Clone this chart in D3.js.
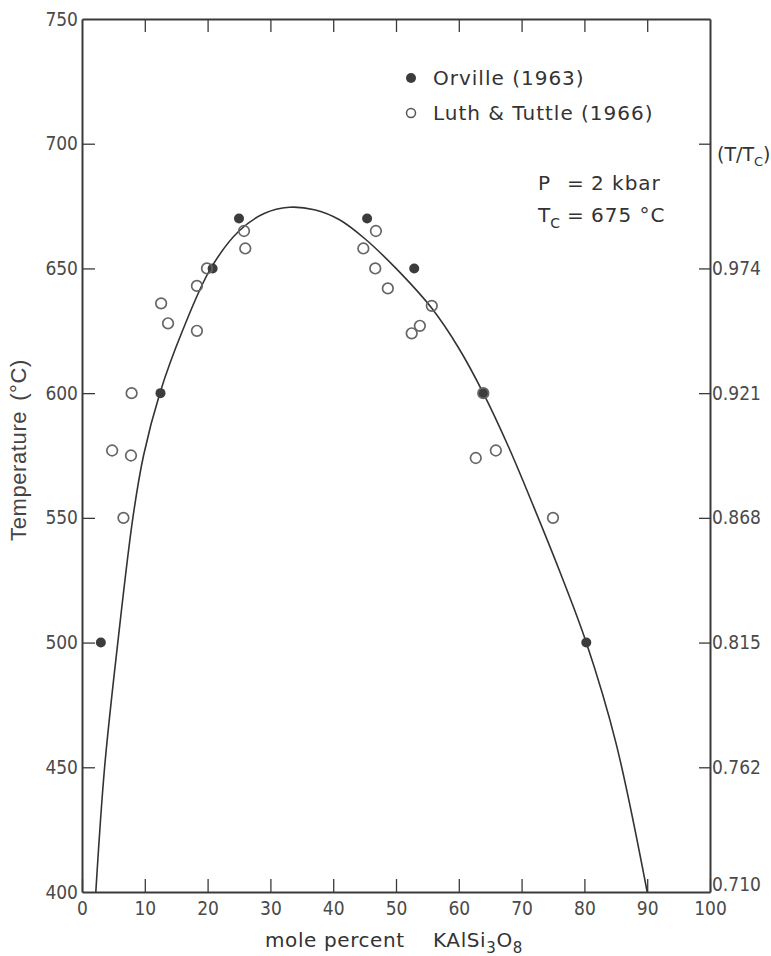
<!DOCTYPE html>
<html lang="en">
<head>
<meta charset="UTF-8">
<title>Alkali feldspar solvus</title>
<script src="https://d3js.org/d3.v7.min.js"></script>
<style>
  body { margin: 0; background: #fff; }
  .tick text { font-family: "Liberation Sans Narrow", "DejaVu Sans Condensed", sans-serif; font-stretch: condensed; font-size: 19px; fill: #4a4a4a; }
  .lbl { font-family: "DejaVu Sans", sans-serif; fill: #333; }
</style>
</head>
<body>
<div id="chart"></div>
<script>
// Orville (1963) - filled circles
const orvilleX = [3, 12.5, 20.8, 25, 45.4, 52.9, 63.9, 80.3];
const orvilleT = [500, 600, 650, 670, 670, 650, 600, 500];

// Luth & Tuttle (1966) - open circles
const luthX = [4.8, 6.6, 7.8, 7.9, 12.6, 13.7, 18.3, 18.3, 19.9, 25.8, 26, 44.8, 46.7, 46.8, 48.7, 52.5, 53.8, 55.7, 62.7, 63.9, 65.9, 75];
const luthT = [577, 550, 575, 600, 636, 628, 625, 643, 650, 665, 658, 658, 650, 665, 642, 624, 627, 635, 574, 600, 577, 550];

// solvus curve
const solvusX = [2.2, 3.6, 5.7, 8.1, 9.8, 12.4, 16, 20.5, 25, 29, 33, 37, 41, 45, 50, 55.7, 60, 63.9, 68, 72, 76, 80.3, 85, 90];
const solvusT = [400, 450, 500, 550, 575, 600, 625, 650, 665, 672, 674.5, 673.5, 669.5, 662, 650, 634, 618, 600, 578, 554, 529, 500, 460, 400];

const xTicks = [0, 10, 20, 30, 40, 50, 60, 70, 80, 90, 100];
const yTicks = [400, 450, 500, 550, 600, 650, 700, 750];
const rightTicks = [400, 450, 500, 550, 600, 650, 700];
const rightLabels = ["0.710", "0.762", "0.815", "0.868", "0.921", "0.974", ""];

const width = 771, height = 956;
const svg = d3.select("#chart").append("svg")
  .attr("width", width)
  .attr("height", height);

const x = d3.scaleLinear().domain([0, 100]).range([82, 710]);
const y = d3.scaleLinear().domain([400, 750]).range([892, 19]);

const axisColor = "#3a3a3a";

function styleAxis(g) {
  g.select(".domain").attr("stroke", axisColor).attr("stroke-width", 2);
  g.selectAll(".tick line").attr("stroke", axisColor).attr("stroke-width", 1.3);
}

// bottom
svg.append("g")
  .attr("transform", `translate(0,${y(400)})`)
  .call(d3.axisBottom(x).tickValues(xTicks).tickSizeInner(-13).tickSizeOuter(0).tickPadding(6))
  .call(styleAxis)
  .call(g => g.selectAll(".tick text").attr("dy", "0.9em"));

// top (ticks only)
svg.append("g")
  .attr("transform", `translate(0,${y(750)})`)
  .call(d3.axisTop(x).tickValues(xTicks.slice(1, -1)).tickSizeInner(-13).tickSizeOuter(0).tickFormat(""))
  .call(styleAxis);

// left
svg.append("g")
  .attr("transform", `translate(${x(0)},0)`)
  .call(d3.axisLeft(y).tickValues(yTicks).tickSizeInner(-13).tickSizeOuter(0).tickPadding(4))
  .call(styleAxis)
  .call(g => g.selectAll(".tick").filter(d => d === 400 || d === 750).select("line").remove());

// right, T/Tc
svg.append("g")
  .attr("transform", `translate(${x(100)},0)`)
  .call(d3.axisRight(y).tickValues(rightTicks).tickSizeInner(-11).tickSizeOuter(0).tickPadding(2)
    .tickFormat((d, i) => rightLabels[i]))
  .call(styleAxis)
  .call(g => g.selectAll(".tick").filter(d => d === 400).select("line").remove())
  .call(g => g.selectAll(".tick").filter(d => d === 400).select("text").attr("dy", "-0.1em"));

// solvus
const line = d3.line()
  .x((d, i) => x(solvusX[i]))
  .y((d, i) => y(solvusT[i]))
  .curve(d3.curveCatmullRom.alpha(0.5));

svg.append("path")
  .datum(solvusX)
  .attr("d", line)
  .attr("fill", "none")
  .attr("stroke", "#333")
  .attr("stroke-width", 1.6);

// points: filled first, open rings on top so overlaps stay visible
svg.append("g").selectAll("circle")
  .data(orvilleX)
  .join("circle")
  .attr("cx", (d) => x(d))
  .attr("cy", (d, i) => y(orvilleT[i]))
  .attr("r", 5)
  .attr("fill", "#3c3c3c");

svg.append("g").selectAll("circle")
  .data(luthX)
  .join("circle")
  .attr("cx", (d) => x(d))
  .attr("cy", (d, i) => y(luthT[i]))
  .attr("r", 5.3)
  .attr("fill", "none")
  .attr("stroke", "#666")
  .attr("stroke-width", 1.7);

// legend
const leg = svg.append("g");
leg.append("circle").attr("cx", 411).attr("cy", 78).attr("r", 5).attr("fill", "#3c3c3c");
leg.append("circle").attr("cx", 411).attr("cy", 113).attr("r", 4.5).attr("fill", "none").attr("stroke", "#555").attr("stroke-width", 1.5);
leg.append("text").attr("class", "lbl").attr("x", 433).attr("y", 85).attr("font-size", 20).attr("letter-spacing", 1).text("Orville (1963)");
leg.append("text").attr("class", "lbl").attr("x", 433).attr("y", 120).attr("font-size", 20).attr("letter-spacing", 1).text("Luth & Tuttle (1966)");

// conditions
const cond = svg.append("g").attr("font-size", 20);
cond.append("text").attr("class", "lbl").attr("x", 538).attr("y", 190).text("P");
cond.append("text").attr("class", "lbl").attr("x", 567).attr("y", 190).text("=");
cond.append("text").attr("class", "lbl").attr("x", 591).attr("y", 190).attr("letter-spacing", 1).text("2 kbar");
const tc = cond.append("text").attr("class", "lbl").attr("x", 538).attr("y", 222);
tc.append("tspan").text("T");
tc.append("tspan").attr("dy", 6).attr("font-size", 14).text("C");
cond.append("text").attr("class", "lbl").attr("x", 567).attr("y", 222).text("=");
cond.append("text").attr("class", "lbl").attr("x", 591).attr("y", 222).attr("letter-spacing", 1).text("675 °C");

// right axis title
const tt = svg.append("text").attr("class", "lbl").attr("x", 717).attr("y", 161)
  .attr("font-family", "Liberation Sans Narrow, DejaVu Sans Condensed, sans-serif").attr("font-size", 19);
tt.append("tspan").text("(T/T");
tt.append("tspan").attr("dy", 5).attr("font-size", 13).text("C");
tt.append("tspan").attr("dy", -5).text(")");

// y title
const yt = svg.append("text")
  .attr("transform", "translate(26,450) rotate(-90)")
  .attr("text-anchor", "middle")
  .attr("font-family", "Liberation Sans, Arial, sans-serif")
  .attr("font-size", 22)
  .attr("letter-spacing", 0.6)
  .attr("fill", "#444");
yt.append("tspan").text("Temperature");
yt.append("tspan").attr("dx", 10).text("(°C)");

// x title
const xt = svg.append("text").attr("class", "lbl").attr("x", 265).attr("y", 947).attr("font-size", 20).attr("letter-spacing", 0.6);
xt.append("tspan").text("mole percent");
xt.append("tspan").attr("x", 433).text("KAlSi");
xt.append("tspan").attr("dy", 6).attr("font-size", 15).text("3");
xt.append("tspan").attr("dy", -6).text("O");
xt.append("tspan").attr("dy", 6).attr("font-size", 15).text("8");
</script>
</body>
</html>
